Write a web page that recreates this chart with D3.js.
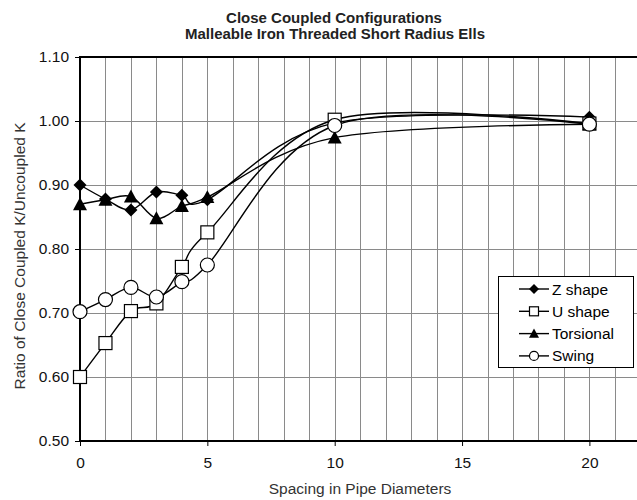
<!DOCTYPE html>
<html>
<head>
<meta charset="utf-8">
<script src="https://cdn.jsdelivr.net/npm/d3@7"></script>
<style>
  body { margin: 0; background: #fff; }
  text { font-family: "Liberation Sans", Arial, sans-serif; }
</style>
</head>
<body>
<svg width="637" height="500"></svg>
<script>
// spacing values (pipe diameters)
var spacing = [0, 1, 2, 3, 4, 5, 10, 20];

var zShape    = [0.900, 0.878, 0.861, 0.889, 0.884, 0.877, 0.997, 1.006];
var uShape    = [0.600, 0.653, 0.703, 0.715, 0.772, 0.826, 1.002, 0.996];
var torsional = [0.870, 0.877, 0.882, 0.848, 0.867, 0.881, 0.974, 0.995];
var swing     = [0.702, 0.721, 0.740, 0.725, 0.749, 0.775, 0.993, 0.995];

var seriesNames = ["Z shape", "U shape", "Torsional", "Swing"];
var seriesMarks = ["diamond", "square", "triangle", "circle"];
var seriesData  = [zShape, uShape, torsional, swing];

var yTicks = [0.50, 0.60, 0.70, 0.80, 0.90, 1.00, 1.10];
var xTicks = [0, 5, 10, 15, 20];

var svg = d3.select("svg"),
    width = +svg.attr("width"),
    height = +svg.attr("height");

var plotLeft = 80, plotTop = 57, plotBottom = 441;
var x = d3.scaleLinear().domain([0, 22]).range([plotLeft, plotLeft + 22 * 25.47]);
var y = d3.scaleLinear().domain([0.5, 1.1]).range([plotBottom, plotTop]);

// titles
svg.append("text")
    .attr("x", 334).attr("y", 23)
    .attr("text-anchor", "middle")
    .style("font-size", "15px")
    .style("font-weight", "bold")
    .attr("fill", "#222")
    .text("Close Coupled Configurations");
svg.append("text")
    .attr("x", 335).attr("y", 39)
    .attr("text-anchor", "middle")
    .style("font-size", "15px")
    .style("font-weight", "bold")
    .attr("fill", "#222")
    .text("Malleable Iron Threaded Short Radius Ells");

// gridlines
var grid = svg.append("g").attr("stroke", "#8a8a8a").attr("stroke-width", 1);
grid.selectAll("line.v")
    .data(d3.range(1, 23))
    .enter().append("line")
    .attr("class", "v")
    .attr("x1", function (d) { return Math.round(x(d)) + 0.5; })
    .attr("x2", function (d) { return Math.round(x(d)) + 0.5; })
    .attr("y1", plotTop)
    .attr("y2", plotBottom);
grid.selectAll("line.h")
    .data(yTicks.slice(1))
    .enter().append("line")
    .attr("class", "h")
    .attr("x1", plotLeft)
    .attr("x2", width)
    .attr("y1", function (d) { return Math.round(y(d)) + 0.5; })
    .attr("y2", function (d) { return Math.round(y(d)) + 0.5; });

// axes
var yAxis = svg.append("g")
    .attr("transform", "translate(" + plotLeft + ",0)")
    .call(d3.axisLeft(y).tickValues(yTicks).tickFormat(d3.format(".2f")).tickSize(5).tickPadding(6));
var xAxis = svg.append("g")
    .attr("transform", "translate(0," + plotBottom + ")")
    .call(d3.axisBottom(x).tickValues(xTicks).tickSize(5).tickPadding(11));
[xAxis, yAxis].forEach(function (a) {
    a.select(".domain").remove();
    a.selectAll("line").attr("stroke", "#000");
    a.selectAll("text").style("font-size", "15.5px").attr("fill", "#111");
});

svg.append("line").attr("x1", plotLeft).attr("x2", width).attr("y1", plotTop).attr("y2", plotTop)
    .attr("stroke", "#000").attr("stroke-width", 2);
svg.append("line").attr("x1", plotLeft).attr("x2", width).attr("y1", plotBottom).attr("y2", plotBottom)
    .attr("stroke", "#000").attr("stroke-width", 2);
svg.append("line").attr("x1", plotLeft).attr("x2", plotLeft).attr("y1", plotTop - 1).attr("y2", plotBottom + 1)
    .attr("stroke", "#000").attr("stroke-width", 2);

// axis titles
svg.append("text")
    .attr("x", 360).attr("y", 494)
    .attr("text-anchor", "middle")
    .style("font-size", "15.5px")
    .attr("fill", "#333")
    .text("Spacing in Pipe Diameters");
svg.append("text")
    .attr("transform", "translate(25,256) rotate(-90)")
    .attr("text-anchor", "middle")
    .style("font-size", "15.5px")
    .attr("fill", "#333")
    .text("Ratio of Close Coupled K/Uncoupled K");

function drawMarker(g, type, cx, cy, s) {
    if (type == "diamond") {
        g.append("path")
            .attr("d", "M" + cx + "," + (cy - s) + "L" + (cx + s) + "," + cy + "L" + cx + "," + (cy + s) + "L" + (cx - s) + "," + cy + "Z")
            .attr("fill", "#000");
    } else if (type == "square") {
        g.append("rect")
            .attr("x", cx - s).attr("y", cy - s)
            .attr("width", 2 * s).attr("height", 2 * s)
            .attr("fill", "#fff").attr("stroke", "#000").attr("stroke-width", 1.2);
    } else if (type == "triangle") {
        g.append("path")
            .attr("d", "M" + cx + "," + (cy - s) + "L" + (cx + s) + "," + (cy + s * 0.85) + "L" + (cx - s) + "," + (cy + s * 0.85) + "Z")
            .attr("fill", "#000");
    } else {
        g.append("circle")
            .attr("cx", cx).attr("cy", cy).attr("r", s)
            .attr("fill", "#fff").attr("stroke", "#000").attr("stroke-width", 1.2);
    }
}

var line = d3.line()
    .x(function (d, i) { return x(spacing[i]); })
    .y(function (d) { return y(d); })
    .curve(d3.curveCardinal.tension(0));

var markSize = { diamond: 6.5, square: 6.5, triangle: 7, circle: 7 };

seriesData.forEach(function (vals, k) {
    var g = svg.append("g");
    g.append("path")
        .datum(vals)
        .attr("d", line)
        .attr("fill", "none")
        .attr("stroke", "#000")
        .attr("stroke-width", 1.4);
    vals.forEach(function (v, i) {
        drawMarker(g, seriesMarks[k], x(spacing[i]), y(v), markSize[seriesMarks[k]]);
    });
});

// legend
var legend = svg.append("g");
legend.append("rect")
    .attr("x", 498.5).attr("y", 276.5)
    .attr("width", 135).attr("height", 91)
    .attr("fill", "#fff").attr("stroke", "#000").attr("stroke-width", 1);
var legMark = { diamond: 5, square: 4.5, triangle: 5, circle: 4.5 };
seriesNames.forEach(function (name, k) {
    var ly = 289 + k * 22.3;
    legend.append("line")
        .attr("x1", 519).attr("x2", 549)
        .attr("y1", ly).attr("y2", ly)
        .attr("stroke", "#000").attr("stroke-width", 1.4);
    drawMarker(legend, seriesMarks[k], 534, ly, legMark[seriesMarks[k]]);
    legend.append("text")
        .attr("x", 552).attr("y", ly + 5.5)
        .style("font-size", "15.5px")
        .text(name);
});
</script>
</body>
</html>
